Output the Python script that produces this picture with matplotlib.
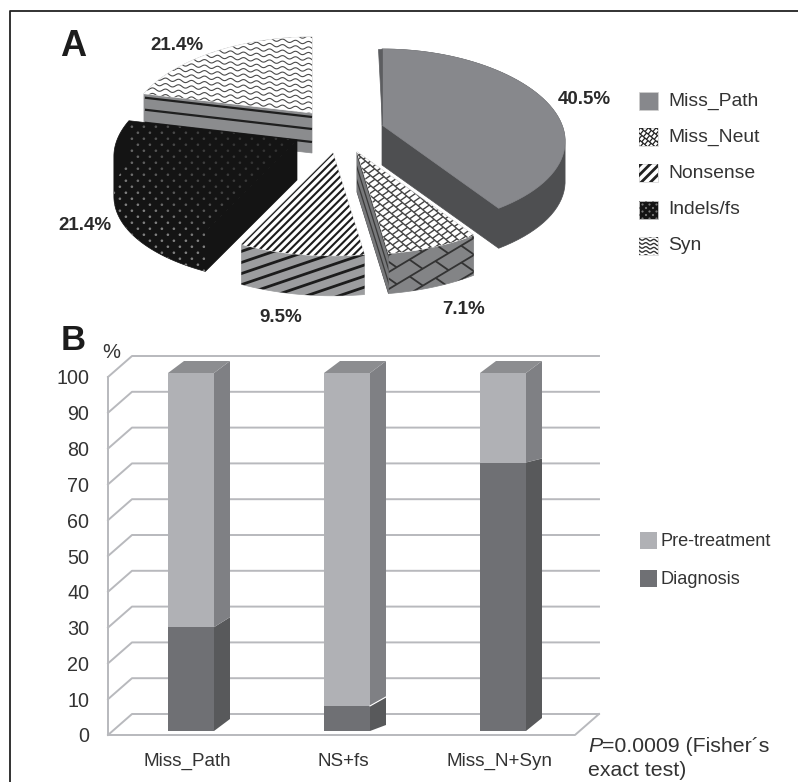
import matplotlib
matplotlib.use("Agg")
import matplotlib.pyplot as plt
from matplotlib.patches import Polygon, Rectangle
from matplotlib.collections import LineCollection
import numpy as np

plt.rcParams["font.family"] = ["Liberation Sans", "DejaVu Sans"]

# panel A
pie_labels = ["Miss_Path", "Miss_Neut", "Nonsense", "Indels/fs", "Syn"]
pie_values = [40.5, 7.1, 9.5, 21.4, 21.4]
pie_texts = ["40.5%", "7.1%", "9.5%", "21.4%", "21.4%"]

# panel B
groups = ["Miss_Path", "NS+fs", "Miss_N+Syn"]
diagnosis = [29, 7, 75]
pre_treatment = [71, 93, 25]
y_ticks = [0, 10, 20, 30, 40, 50, 60, 70, 80, 90, 100]

W, H = 798, 782
fig = plt.figure(figsize=(W / 100, H / 100), dpi=100)
ov = fig.add_axes([0, 0, 1, 1])
ov.set_xlim(0, W)
ov.set_ylim(H, 0)
ov.axis("off")

TXT = "#333333"
ov.plot([10, 10, W], [H, 11, 11], color="#222222", lw=1.3)


def rim(angle, apex):
    s = np.sin(np.radians(angle))
    c = np.cos(np.radians(angle))
    return apex[0] + 180 * s * (1 - 0.19 * c), apex[1] - 89.4 * c * (1 - 0.15 * c)


def hull(pts):
    pts = sorted(set(map(tuple, pts)))
    def half(seq):
        out = []
        for p in seq:
            while len(out) > 1 and ((out[-1][0] - out[-2][0]) * (p[1] - out[-2][1]) - (out[-1][1] - out[-2][1]) * (p[0] - out[-2][0])) <= 0:
                out.pop()
            out.append(p)
        return out[:-1]
    return half(pts) + half(pts[::-1])


def poly(xy, fc, z):
    p = Polygon(xy, closed=True, fc=fc, ec=fc, lw=0.5, zorder=z)
    ov.add_patch(p)
    return p


def stripes(clip, box, direction, step, lw, color, z):
    # parallel lines across box, cut to the clip patch
    u = np.array(direction, float)
    u = u / np.hypot(*u)
    n = np.array([-u[1], u[0]])
    c = np.array([(box[0] + box[2]) / 2, (box[1] + box[3]) / 2])
    r = np.hypot(box[2] - box[0], box[3] - box[1]) / 2 + 5
    segs = [[c + n * d - u * r, c + n * d + u * r] for d in np.arange(-r, r, step)]
    lc = LineCollection(segs, colors=color, linewidths=lw, zorder=z)
    ov.add_collection(lc)
    lc.set_clip_path(clip)


def bricks(clip, box, u, v, row, length, lw, color, z):
    # brick courses along u, staggered joints along v
    u = np.array(u, float) / np.hypot(*u)
    v = np.array(v, float) / np.hypot(*v)
    c = np.array([(box[0] + box[2]) / 2, (box[1] + box[3]) / 2])
    r = np.hypot(box[2] - box[0], box[3] - box[1]) / 2 + 5
    segs = []
    for k, d in enumerate(np.arange(-r, r, row)):
        o = c + v * d
        segs.append([o - u * r, o + u * r])
        for t in np.arange(-r, r, length):
            a = o + u * (t + (k % 2) * length / 2)
            segs.append([a, a + v * row])
    lc = LineCollection(segs, colors=color, linewidths=lw, zorder=z)
    ov.add_collection(lc)
    lc.set_clip_path(clip)


def waves(clip, box, step, period, amp, lw, color, z):
    xs = np.arange(box[0], box[2] + 1, 1.0)
    segs = []
    for y in np.arange(box[1] - 20, box[3] + step, step):
        segs.append(np.column_stack([xs, y + amp * np.sin(2 * np.pi * xs / period) + (xs - box[0]) * 0.09]))
    lc = LineCollection(segs, colors=color, linewidths=lw, zorder=z)
    ov.add_collection(lc)
    lc.set_clip_path(clip)


def dots(clip, box, step, size, z, centre=None):
    xs, ys, cs = [], [], []
    for k, y in enumerate(np.arange(box[1], box[3], step * 0.5)):
        for x in np.arange(box[0] + (k % 2) * step / 2, box[2], step):
            xs.append(x)
            ys.append(y)
            if centre is None:
                cs.append("#7a7a7a")
            else:
                g = 0.2 + 0.3 * min(1, np.hypot(x - centre[0], (y - centre[1]) * 1.6) / 190) ** 3
                cs.append((g, g, g))
    sc = ov.scatter(xs, ys, s=size, c=cs, linewidths=0, zorder=z)
    sc.set_clip_path(clip)


apexes = [(382, 125), (357, 152), (333, 153), (297, 140), (312, 113)]
draw_order = [4, 3, 0, 2, 1]
depth = 40
edges = np.cumsum([0] + pie_values) / sum(pie_values) * 360

for i in draw_order:
    a0, a1 = edges[i], edges[i + 1]
    apex = apexes[i]
    arc = [rim(a, apex) for a in np.linspace(a0, a1, 60)]
    top = [apex] + arc
    low = [(x, y + depth) for x, y in top]
    side_xy = hull(top + low)
    xs = [p[0] for p in side_xy]
    ys = [p[1] for p in side_xy]
    box = (min(xs), min(ys), max(xs), max(ys))
    z = 2 + draw_order.index(i) * 4

    if i == 0:
        poly(side_xy, "#4e4f51", z)
        poly(top, "#87888c", z + 2)
        poly([apex, arc[0], (arc[0][0] - 4, arc[0][1])], "#5c5d60", z + 3)
    elif i == 1:
        side = poly(side_xy, "#838486", z)
        bricks(side, box, (1, -0.6), (1, 0.7), 16, 30, 1.3, "#333333", z + 1)
        cut = poly([apex, arc[-1], low[-1], low[0]], "#77787a", z + 1.5)
        stripes(cut, box, (arc[-1][0] - apex[0], arc[-1][1] - apex[1]), 4, 0.9, "#3a3a3a", z + 1.6)
        t = poly(top, "white", z + 2)
        bricks(t, box, (1, 0.85), (1, -0.7), 8, 6, 1.0, "#444444", z + 3)
    elif i == 2:
        side = poly(side_xy, "#9c9d9f", z)
        stripes(side, box, (1, -0.34), 10.5, 2.0, "#1c1c1c", z + 1)
        t = poly(top, "white", z + 2)
        stripes(t, box, (1, -1), 5.4, 1.5, "#1c1c1c", z + 3)
    elif i == 3:
        side = poly(side_xy, "#141414", z)
        band = Polygon([apex, arc[0], low[1], *low[2:], arc[-1]], closed=True, fc="none", ec="none", zorder=z)
        ov.add_patch(band)
        dots(band, box, 12, 3.5, z + 3, centre=apex)
    else:
        side = poly(side_xy, "#8b8c8e", z)
        for off in [4, 16, 29]:
            ov.plot([arc[0][0] + 1, apex[0]], [arc[0][1] + off, apex[1] + off], color="#1f1f1f", lw=1.6,
                    zorder=z + 1, solid_capstyle="butt")
        t = poly(top, "white", z + 2)
        waves(t, box, 5.5, 13, 1.4, 0.8, "#4a4a4a", z + 3)

label_pos = [(584, 100), (464, 309), (281, 317), (85, 226), (177, 45)]
for txt, (x, y) in zip(pie_texts, label_pos):
    ov.text(x, y, txt, fontsize=13.5, fontweight="bold", color="#2a2a2a", ha="center", va="center", zorder=40)

ov.text(73, 47, "A", fontsize=26, fontweight="bold", color="#1c1c1c", ha="center", va="center", zorder=40)
ov.text(73, 340, "B", fontsize=25, fontweight="bold", color="#1c1c1c", ha="center", va="center", zorder=40)

# pie legend
swatch_y = [92, 128, 164, 201, 237]
for k, (lab, y) in enumerate(zip(pie_labels, swatch_y)):
    box = (639, y, 658, y + 18)
    fc = ["#87888c", "white", "white", "#141414", "white"][k]
    s = Rectangle((639, y), 19, 18, fc=fc, ec="#cfcfcf", lw=0.5, zorder=41)
    ov.add_patch(s)
    if k == 1:
        bricks(s, box, (1, 0.85), (1, -1.2), 5, 4, 0.9, "#222222", 42)
    elif k == 2:
        stripes(s, box, (1, -1), 6.5, 2.0, "#222222", 42)
    elif k == 3:
        dots(s, box, 7, 2.5, 42)
    elif k == 4:
        waves(s, (639, y - 2, 658, y + 18), 4, 8, 1.0, 1.0, "#333333", 42)
    ov.text(668, y + 9, lab, fontsize=13.9, color=TXT, va="center", ha="left", zorder=42)

# panel B, x in category units, y in percent
px_x = 156.0
px_y = 3.58
x0 = (108 - 191) / px_x
x1 = (575 - 191) / px_x
ax = fig.add_axes([108 / W, (H - 735) / H, (575 - 108) / W, (735 - 377) / H])
ax.patch.set_alpha(0)
ax.set_xlim(x0, x1)
ax.set_ylim(0, 100)
for sp in ax.spines.values():
    sp.set_visible(False)

wall_dx = 24 / px_x
wall_dy = 21 / px_y
GRID = "#b8b9bd"
for t in y_ticks:
    ax.plot([x0, x0 + wall_dx, x1 + wall_dx], [t, t + wall_dy, t + wall_dy], color=GRID, lw=1.4, clip_on=False, zorder=1)
ax.plot([x0, x0], [0, 100], color=GRID, lw=1.4, clip_on=False, zorder=1)
ax.plot([x0, x1, x1 + wall_dx], [0, 0, wall_dy], color=GRID, lw=1.4, clip_on=False, zorder=1)

x = np.arange(len(groups))
bar_w = 46 / px_x
base = 4 / px_y
bar_dx = 16 / px_x
bar_dy = 12 / px_y
split_rise = [10 / px_y, 9 / px_y, 4 / px_y]
base_rise = [12 / px_y, 6 / px_y, 13 / px_y]

ax.bar(x, diagnosis, bar_w, bottom=base, color="#6f7074", zorder=3, clip_on=False)
ax.bar(x, pre_treatment, bar_w, bottom=np.array(diagnosis) + base, color="#b0b1b5", zorder=3, clip_on=False)
for i in range(len(groups)):
    r = x[i] + bar_w / 2
    l = x[i] - bar_w / 2
    mid = diagnosis[i] + base
    tp = mid + pre_treatment[i]
    ax.add_patch(Polygon([(r, base), (r + bar_dx, base + base_rise[i]), (r + bar_dx, mid + split_rise[i]), (r, mid)],
                         fc="#58595b", ec="none", clip_on=False, zorder=3))
    ax.add_patch(Polygon([(r, mid), (r + bar_dx, mid + split_rise[i]), (r + bar_dx, tp + bar_dy), (r, tp)],
                         fc="#7f8084", ec="none", clip_on=False, zorder=3))
    ax.add_patch(Polygon([(l, tp), (r, tp), (r + bar_dx, tp + bar_dy), (l + bar_dx, tp + bar_dy)],
                         fc="#8c8d90", ec="none", clip_on=False, zorder=3))
    if i == 1:
        ax.plot([r, r + bar_dx], [mid, mid + split_rise[i]], color="white", lw=0.8, zorder=4)

ax.set_yticks(y_ticks)
ax.set_xticks(x - 4 / px_x)
ax.set_xticklabels(groups)
ax.tick_params(axis="y", length=0, pad=13.5, labelsize=14.2, labelcolor=TXT)
ax.tick_params(axis="x", length=0, pad=13, labelsize=13.6, labelcolor=TXT)

ov.text(111, 353, "%", fontsize=14.5, color=TXT, ha="center", va="center", zorder=42)

# stack legend
for lab, col, y in zip(["Pre-treatment", "Diagnosis"], ["#b0b1b5", "#6f7074"], [532, 570]):
    ov.add_patch(Rectangle((640, y), 17, 17, fc=col, ec="none", zorder=42))
    ov.text(661, y + 9, lab, fontsize=13.1, color=TXT, ha="left", va="center", zorder=42)

ov.text(588, 746, "P", fontsize=15.3, style="italic", color=TXT, ha="left", va="center", zorder=42)
ov.text(602, 746, "=0.0009 (Fisher\u00b4s", fontsize=15.3, color=TXT, ha="left", va="center", zorder=42)
ov.text(588, 771, "exact test)", fontsize=15.3, color=TXT, ha="left", va="center", zorder=42)

fig.savefig("out.png", dpi=100)
